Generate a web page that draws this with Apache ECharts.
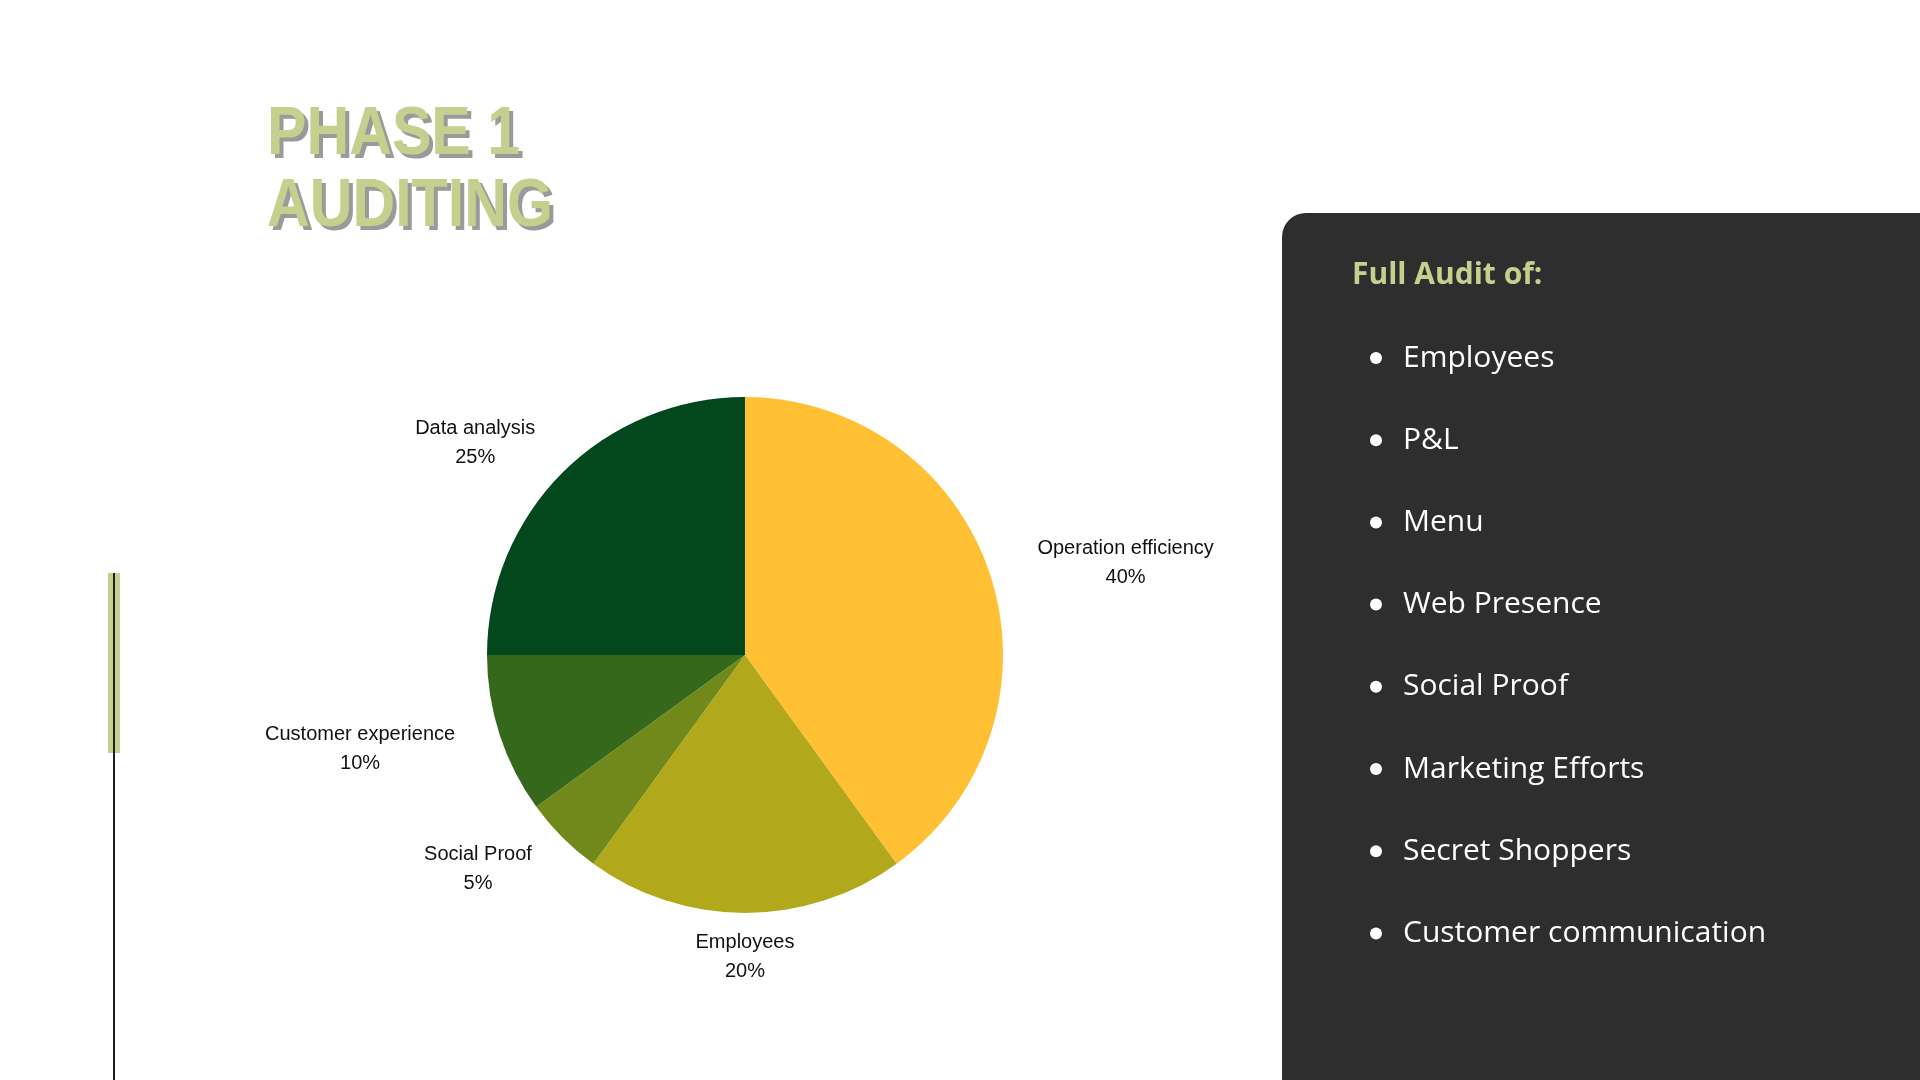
<!DOCTYPE html>
<html>
<head>
<meta charset="utf-8">
<title>Phase 1 Auditing</title>
<script src="https://cdn.jsdelivr.net/npm/echarts@6/dist/echarts.min.js"></script>
<style>
  html, body { margin: 0; padding: 0; background: #ffffff; }
  #main { width: 1920px; height: 1080px; }
</style>
</head>
<body>
<div id="main"></div>
<script>
// chart data
var categories = ['Operation efficiency', 'Employees', 'Social Proof', 'Customer experience', 'Data analysis'];
var values = [40, 20, 5, 10, 25];
var colors = ['#FFC034', '#B2A81C', '#71891A', '#36681C', '#03481D'];

// slide texts
var titleLines = ['PHASE 1', 'AUDITING'];
var panelTitle = 'Full Audit of:';
var auditItems = ['Employees', 'P&L', 'Menu', 'Web Presence', 'Social Proof',
                  'Marketing Efforts', 'Secret Shoppers', 'Customer communication'];

var myChart = echarts.init(document.getElementById('main'));

var cx = 745, cy = 655, radius = 258;
var total = values.reduce(function (a, b) { return a + b; }, 0);

// mid angle of each slice (degrees clockwise from top)
var midAngles = [];
var acc = 0;
values.forEach(function (v) {
    midAngles.push((acc + v / 2) / total * 360);
    acc += v;
});

var graphics = [];

// left vertical line + green bar
graphics.push({
    type: 'rect', shape: { x: 108, y: 573, width: 12, height: 180 },
    style: { fill: '#C3D08E' }, z: 1
});
graphics.push({
    type: 'line', shape: { x1: 114, y1: 573, x2: 114, y2: 1080 },
    style: { stroke: '#1e1e1e', lineWidth: 2 }, z: 2
});

// title with hard shadow (squeezed a bit, the original face is narrower)
var titleFont = 'bold 68px "Liberation Sans", Arial, sans-serif';
titleLines.forEach(function (t, i) {
    var y = 135 + i * 72;
    graphics.push({
        type: 'text', x: 271, y: y + 4, z: 3, scaleX: 0.87,
        style: { text: t, fill: '#9a9a9a', font: titleFont, verticalAlign: 'middle', align: 'left' }
    });
    graphics.push({
        type: 'text', x: 267, y: y, z: 4, scaleX: 0.87,
        style: { text: t, fill: '#C3D08E', font: titleFont, verticalAlign: 'middle', align: 'left' }
    });
});

// dark panel on the right
graphics.push({
    type: 'rect', shape: { x: 1282, y: 213, width: 700, height: 920, r: 24 },
    style: { fill: '#2E2E2E' }, z: 1
});
graphics.push({
    type: 'text', x: 1352, y: 275, z: 3,
    style: { text: panelTitle, fill: '#C3D08E', font: 'bold 30px "Open Sans", sans-serif',
             verticalAlign: 'middle', align: 'left' }
});
auditItems.forEach(function (t, i) {
    var y = 358 + i * 82.2;
    graphics.push({
        type: 'circle', shape: { cx: 1376, cy: y, r: 6 },
        style: { fill: '#ffffff' }, z: 3
    });
    graphics.push({
        type: 'text', x: 1403, y: y, z: 3,
        style: { text: t, fill: '#ffffff', font: '30px "Open Sans", sans-serif',
                 verticalAlign: 'middle', align: 'left' }
    });
});

var option = {
    backgroundColor: '#ffffff',
    animation: false,
    graphic: graphics,
    series: [
        {
            type: 'pie',
            center: [cx, cy],
            radius: radius,
            startAngle: 90,
            clockwise: true,
            avoidLabelOverlap: false,
            data: categories.map(function (c, i) {
                return { name: c, value: values[i], itemStyle: { color: colors[i] } };
            }),
            label: {
                show: true,
                position: 'outside',
                formatter: '{b}\n{d}%',
                color: '#111111',
                fontFamily: '"Liberation Sans", Arial, sans-serif',
                fontSize: 20,
                lineHeight: 29,
                align: 'center'
            },
            labelLine: { show: false },
            labelLayout: function (params) {
                var a = midAngles[params.dataIndex] * Math.PI / 180;
                var dx = Math.sin(a), dy = -Math.cos(a);
                var w = params.labelRect.width, h = params.labelRect.height;
                return {
                    x: cx + dx * (radius + 84 + 0.66 * w / 2),
                    y: cy + 1 + dy * (radius + 14 + h / 2),
                    align: 'center',
                    verticalAlign: 'middle'
                };
            },
            itemStyle: { borderWidth: 0 },
            emphasis: { disabled: true }
        }
    ]
};

myChart.setOption(option);
</script>
</body>
</html>
